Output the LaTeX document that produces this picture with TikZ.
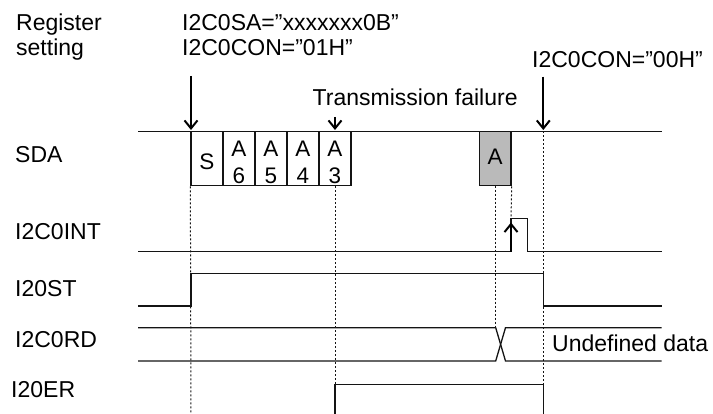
\documentclass[tikz,border=0pt]{standalone}
\usepackage{fontspec}
\setmainfont{Liberation Sans}
\usetikzlibrary{arrows.meta}
\begin{document}
\begin{tikzpicture}[x=1pt,y=-1pt,
  txt/.style={font=\fontsize{23}{26}\selectfont, inner sep=0pt, anchor=base west},
  ctxt/.style={font=\fontsize{22.5}{26}\selectfont, inner sep=0pt, anchor=base},
  sig/.style={line width=1.3pt, draw=black!92},
  dotl/.style={line width=1pt, dash pattern=on 2pt off 2pt, draw=black!92},
  marker/.style={line width=2pt, -{Straight Barb[length=8pt,width=13pt,line width=2pt]}},
  cell/.style={line width=1.3pt, draw=black!92, minimum width=32pt, minimum height=54.2pt, inner sep=0pt},
  greycell/.style={cell, fill=black!27, minimum width=31.7pt}]
\useasboundingbox (0,0) rectangle (713,414);
% texts
\node[txt] (reg1) at (16,31) {Register};
\node[txt] (reg2) at (16,56) {setting};
\node[txt] (sa) at (182,31) {I2C0SA=”xxxxxxx0B”};
\node[txt] (con1) at (182,56) {I2C0CON=”01H”};
\node[txt] (con0) at (532,68) {I2C0CON=”00H”};
\node[txt] (fail) at (312.5,105.5) {Transmission failure};
\node[txt] (sda) at (15,163) {SDA};
\node[txt] (int) at (15,240) {I2C0INT};
\node[txt] (st) at (15,297) {I20ST};
\node[txt] (rd) at (15,348) {I2C0RD};
\node[txt] (er) at (11,398) {I20ER};
% coordinates
\coordinate (sdaL) at (138,131.5);
\coordinate (sdaR) at (661.5,131.5);
\coordinate (a1s) at (191,76);
\coordinate (a1e) at (191,130);
\coordinate (a2s) at (543.3,76.7);
\coordinate (a2e) at (543.3,130);
\coordinate (a3s) at (335,117);
\coordinate (a3e) at (335,130);
% SDA
\draw[sig] (sdaL) -- (sdaR);
\node[cell] (cS) at (207,158.6) {};
\node[cell] (c6) at (239,158.6) {};
\node[cell] (c5) at (271,158.6) {};
\node[cell] (c4) at (303,158.6) {};
\node[cell] (c3) at (335,158.6) {};
\node[greycell] (cA) at (495.2,158.6) {};
\node[ctxt] (tS) at (207,170) {S};
\node[ctxt] (tA6) at (239,157) {A};
\node[ctxt] (t6) at (239,184) {6};
\node[ctxt] (tA5) at (271,157) {A};
\node[ctxt] (t5) at (271,184) {5};
\node[ctxt] (tA4) at (303,157) {A};
\node[ctxt] (t4) at (303,184) {4};
\node[ctxt] (tA3) at (335,157) {A};
\node[ctxt] (t3) at (335,184) {3};
\node[ctxt] (tAg) at (495.2,165) {A};
% arrows
\draw[marker] (a1s) -- (a1e);
\draw[marker] (a2s) -- (a2e);
\draw[marker] (a3s) -- (a3e);
% I2C0INT
\draw[sig] (138,251.7) -- (511,251.7) -- (511,218.3) -- (527.7,218.3) -- (527.7,251.7) -- (661.7,251.7);
\draw[marker] (511,251.7) -- (511,222.5);
% I20ST
\draw[sig] (138,306) -- (191,306) -- (191,273.3) -- (543.3,273.3) -- (543.3,306) -- (661.7,306);
% I2C0RD
\draw[sig] (138,327.7) -- (495.7,327.7) -- (505.5,361) -- (661.7,361);
\draw[sig] (138,361) -- (495.7,361) -- (505.5,327.7) -- (661.7,327.7);
\node[txt] (undef) at (552,351.5) {Undefined data};
% I20ER
\draw[sig] (335,414) -- (335,384.3) -- (543.3,384.3) -- (543.3,414);
% dotted guides
\draw[dotl] (cS.south west) -- (191,414);
\draw[dotl] (c3.south) -- (335,384.3);
\draw[dotl] (495.7,185.7) -- (495.7,327.7);
\draw[dotl] (cA.south east) -- (511,218.3);
\draw[dotl] (543.3,131.5) -- (543.3,384.3);
\end{tikzpicture}
\end{document}
